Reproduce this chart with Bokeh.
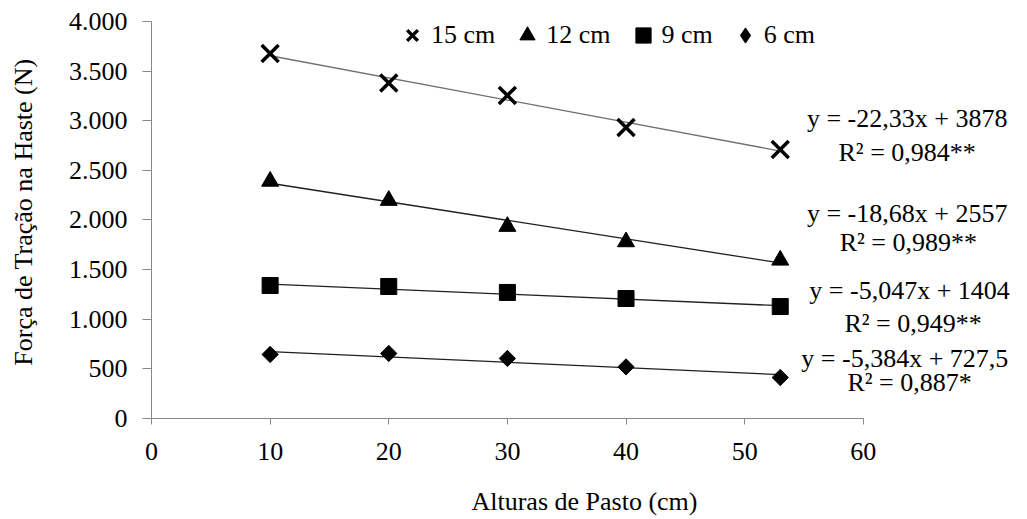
import math
from bokeh.plotting import figure
from bokeh.models import Range1d, Legend, LegendItem, Label, FixedTicker, CustomJSTickFormatter
from bokeh.embed import file_html
from bokeh.resources import INLINE

# ---- data ----
alturas = [10, 20, 30, 40, 53]
s15 = [3678, 3380, 3255, 2932, 2710]
s12 = [2390, 2197, 1935, 1780, 1595]
s9 = [1340, 1330, 1270, 1209, 1128]
s6 = [645, 655, 605, 520, 413]
series_names = ["15 cm", "12 cm", "9 cm", "6 cm"]
slopes = [-22.33, -18.68, -5.047, -5.384]
intercepts = [3878, 2557, 1404, 727.5]
eq_texts = ["y = -22,33x + 3878", "y = -18,68x + 2557", "y = -5,047x + 1404", "y = -5,384x + 727,5"]
r2_texts = ["R\u00b2 = 0,984**", "R\u00b2 = 0,989**", "R\u00b2 = 0,949**", "R\u00b2 = 0,887*"]
x_ticks = [0, 10, 20, 30, 40, 50, 60]
y_ticks = [0, 500, 1000, 1500, 2000, 2500, 3000, 3500, 4000]

# annotation placement (data coords)
eq_pos = [(63.7, 3023), (63.7, 2066), (63.9, 1290), (63.5, 605)]
r2_pos = [(63.7, 2680), (63.8, 1773), (64.2, 957), (63.9, 363)]

FONT = "Liberation Serif"
FS = "26px"

p = figure(width=1027, height=519, output_backend="svg", toolbar_location=None,
           x_range=Range1d(0, 73), y_range=Range1d(0, 4161),
           min_border_left=151, min_border_right=10, min_border_top=5, min_border_bottom=101)
p.outline_line_color = None
p.xgrid.visible = False
p.ygrid.visible = False
p.background_fill_color = "white"

for ax in (p.xaxis[0], p.yaxis[0]):
    ax.axis_line_color = "#888888"
    ax.major_tick_line_color = "#888888"
    ax.minor_tick_line_color = None
    ax.major_tick_in = 0
    ax.major_label_text_font = FONT
    ax.major_label_text_font_size = FS
    ax.major_label_text_color = "black"
    ax.axis_label_text_font = FONT
    ax.axis_label_text_font_size = FS
    ax.axis_label_text_font_style = "normal"
    ax.axis_label_text_color = "black"

p.xaxis[0].bounds = (0, 60)
p.xaxis[0].ticker = FixedTicker(ticks=x_ticks)
p.xaxis[0].major_tick_out = 6
p.xaxis[0].major_label_standoff = 18
p.xaxis[0].axis_label = "Alturas de Pasto (cm)"
p.xaxis[0].axis_label_standoff = 24

p.yaxis[0].bounds = (0, 4000)
p.yaxis[0].ticker = FixedTicker(ticks=y_ticks)
p.yaxis[0].major_tick_out = 9
p.yaxis[0].major_label_standoff = 15
p.yaxis[0].formatter = CustomJSTickFormatter(code="""
    const s = Math.round(tick).toString();
    return s.replace(/\\B(?=(\\d{3})+(?!\\d))/g, '.');
""")
p.yaxis[0].axis_label = "Força de Tração na Haste (N)"
p.yaxis[0].axis_label_standoff = 28

all_series = [s15, s12, s9, s6]
line_colors = ["#707070", "#202020", "#202020", "#202020"]
for i, ys in enumerate(all_series):
    x0, x1 = alturas[0], alturas[-1]
    p.line([x0, x1], [slopes[i] * x0 + intercepts[i], slopes[i] * x1 + intercepts[i]],
           line_color=line_colors[i], line_width=1.3)

r15 = p.scatter(alturas, s15, marker="x", size=24, line_color="black", line_width=3.5)
r12 = p.scatter(alturas, s12, marker="triangle", size=17, fill_color="black", line_color="black")
r9 = p.scatter(alturas, s9, marker="square", size=16, fill_color="black", line_color="black")
# diamond glyph used for the legend (fully covered by the rotated squares drawn on top)
r6_leg = p.scatter(alturas, s6, marker="diamond", size=14, fill_color="black", line_color="black")
r6 = p.scatter(alturas, s6, marker="square", angle=math.pi / 4, size=11.5,
               fill_color="black", line_color="black")

legend = Legend(items=[LegendItem(label=series_names[0], renderers=[r15]),
                       LegendItem(label=series_names[1], renderers=[r12]),
                       LegendItem(label=series_names[2], renderers=[r9]),
                       LegendItem(label=series_names[3], renderers=[r6_leg])],
                orientation="horizontal", location=(242, 364),
                label_text_font=FONT, label_text_font_size=FS, label_text_color="black",
                glyph_width=38, glyph_height=38, label_standoff=0, spacing=13,
                padding=0, margin=0, border_line_color=None, background_fill_alpha=0)
p.add_layout(legend)

for i in range(4):
    p.add_layout(Label(x=eq_pos[i][0], y=eq_pos[i][1], text=eq_texts[i], text_align="center",
                       text_baseline="middle", text_font=FONT, text_font_size=FS, text_color="black"))
    p.add_layout(Label(x=r2_pos[i][0], y=r2_pos[i][1], text=r2_texts[i], text_align="center",
                       text_baseline="middle", text_font=FONT, text_font_size=FS, text_color="black"))

open("out.html", "w").write(file_html(p, INLINE))
